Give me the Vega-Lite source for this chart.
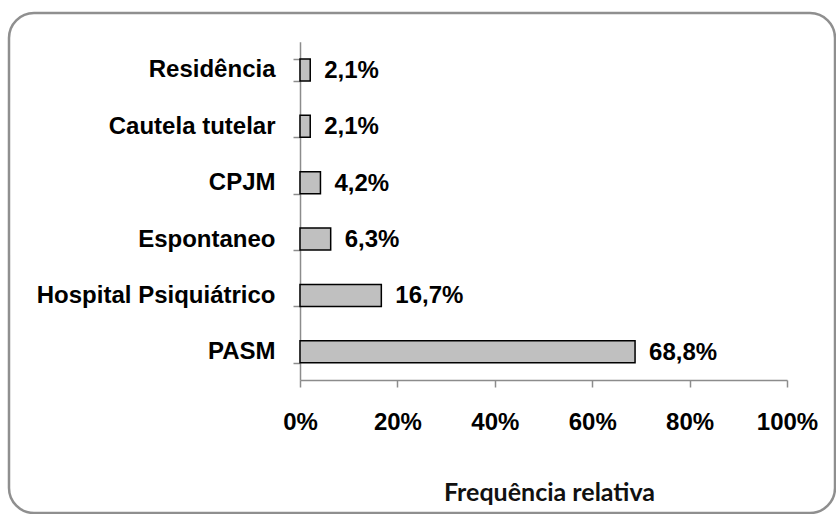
{
  "$schema": "https://vega.github.io/schema/vega-lite/v6.json",
  "width": 826,
  "height": 500,
  "autosize": {"type": "none"},
  "padding": {"left": 9, "top": 13, "right": 1, "bottom": 1},
  "background": "white",
  "config": {
    "locale": {"number": {"decimal": ",", "thousands": ".", "grouping": [3], "currency": ["R$", ""]}},
    "view": {"stroke": "#8f8f8f", "strokeWidth": 2.5, "cornerRadius": 25, "fill": "white"},
    "font": "Liberation Sans"
  },
  "data": {
    "values": [
      {"origem": "Residência", "freq": 0.021},
      {"origem": "Cautela tutelar", "freq": 0.021},
      {"origem": "CPJM", "freq": 0.042},
      {"origem": "Espontaneo", "freq": 0.063},
      {"origem": "Hospital Psiquiátrico", "freq": 0.167},
      {"origem": "PASM", "freq": 0.688}
    ]
  },
  "encoding": {
    "y": {
      "field": "origem",
      "type": "nominal",
      "sort": null,
      "scale": {"range": [28.7, 367], "paddingInner": 0.61, "paddingOuter": 0.305},
      "axis": {
        "title": null,
        "offset": -291,
        "tickBand": "extent",
        "domainColor": "#8c8c8c",
        "domainWidth": 1.5,
        "tickColor": "#8c8c8c",
        "tickWidth": 1.5,
        "tickSize": 7,
        "labelPadding": 18,
        "labelFont": "Liberation Sans",
        "labelFontSize": 24,
        "labelFontWeight": "bold",
        "labelColor": "black",
        "labelLimit": 400
      }
    },
    "x": {
      "field": "freq",
      "type": "quantitative",
      "scale": {"domain": [0, 1], "range": [291, 778], "nice": false},
      "axis": {
        "title": "Frequência relativa",
        "values": [0, 0.2, 0.4, 0.6, 0.8, 1],
        "format": ".0%",
        "offset": -133,
        "grid": false,
        "domainColor": "#8c8c8c",
        "domainWidth": 1.5,
        "tickColor": "#8c8c8c",
        "tickWidth": 1.5,
        "tickSize": 7,
        "labelPadding": 23,
        "labelFont": "Liberation Sans",
        "labelFontSize": 24,
        "labelFontWeight": "bold",
        "labelColor": "black",
        "labelFlush": false,
        "titleFont": "Lato",
        "titleFontSize": 25,
        "titleFontWeight": "bold",
        "titleColor": "#111111",
        "titleX": 540,
        "titleY": 112,
        "titleBaseline": "middle",
        "titleAlign": "center"
      }
    }
  },
  "layer": [
    {
      "mark": {"type": "bar", "fill": "#c0c0c0", "stroke": "black", "strokeWidth": 1.5}
    },
    {
      "mark": {"type": "text", "align": "left", "baseline": "middle", "dx": 14, "dy": 1, "font": "Liberation Sans", "fontSize": 24, "fontWeight": "bold", "color": "black"},
      "encoding": {"text": {"field": "freq", "type": "quantitative", "format": ".1%"}}
    }
  ]
}
